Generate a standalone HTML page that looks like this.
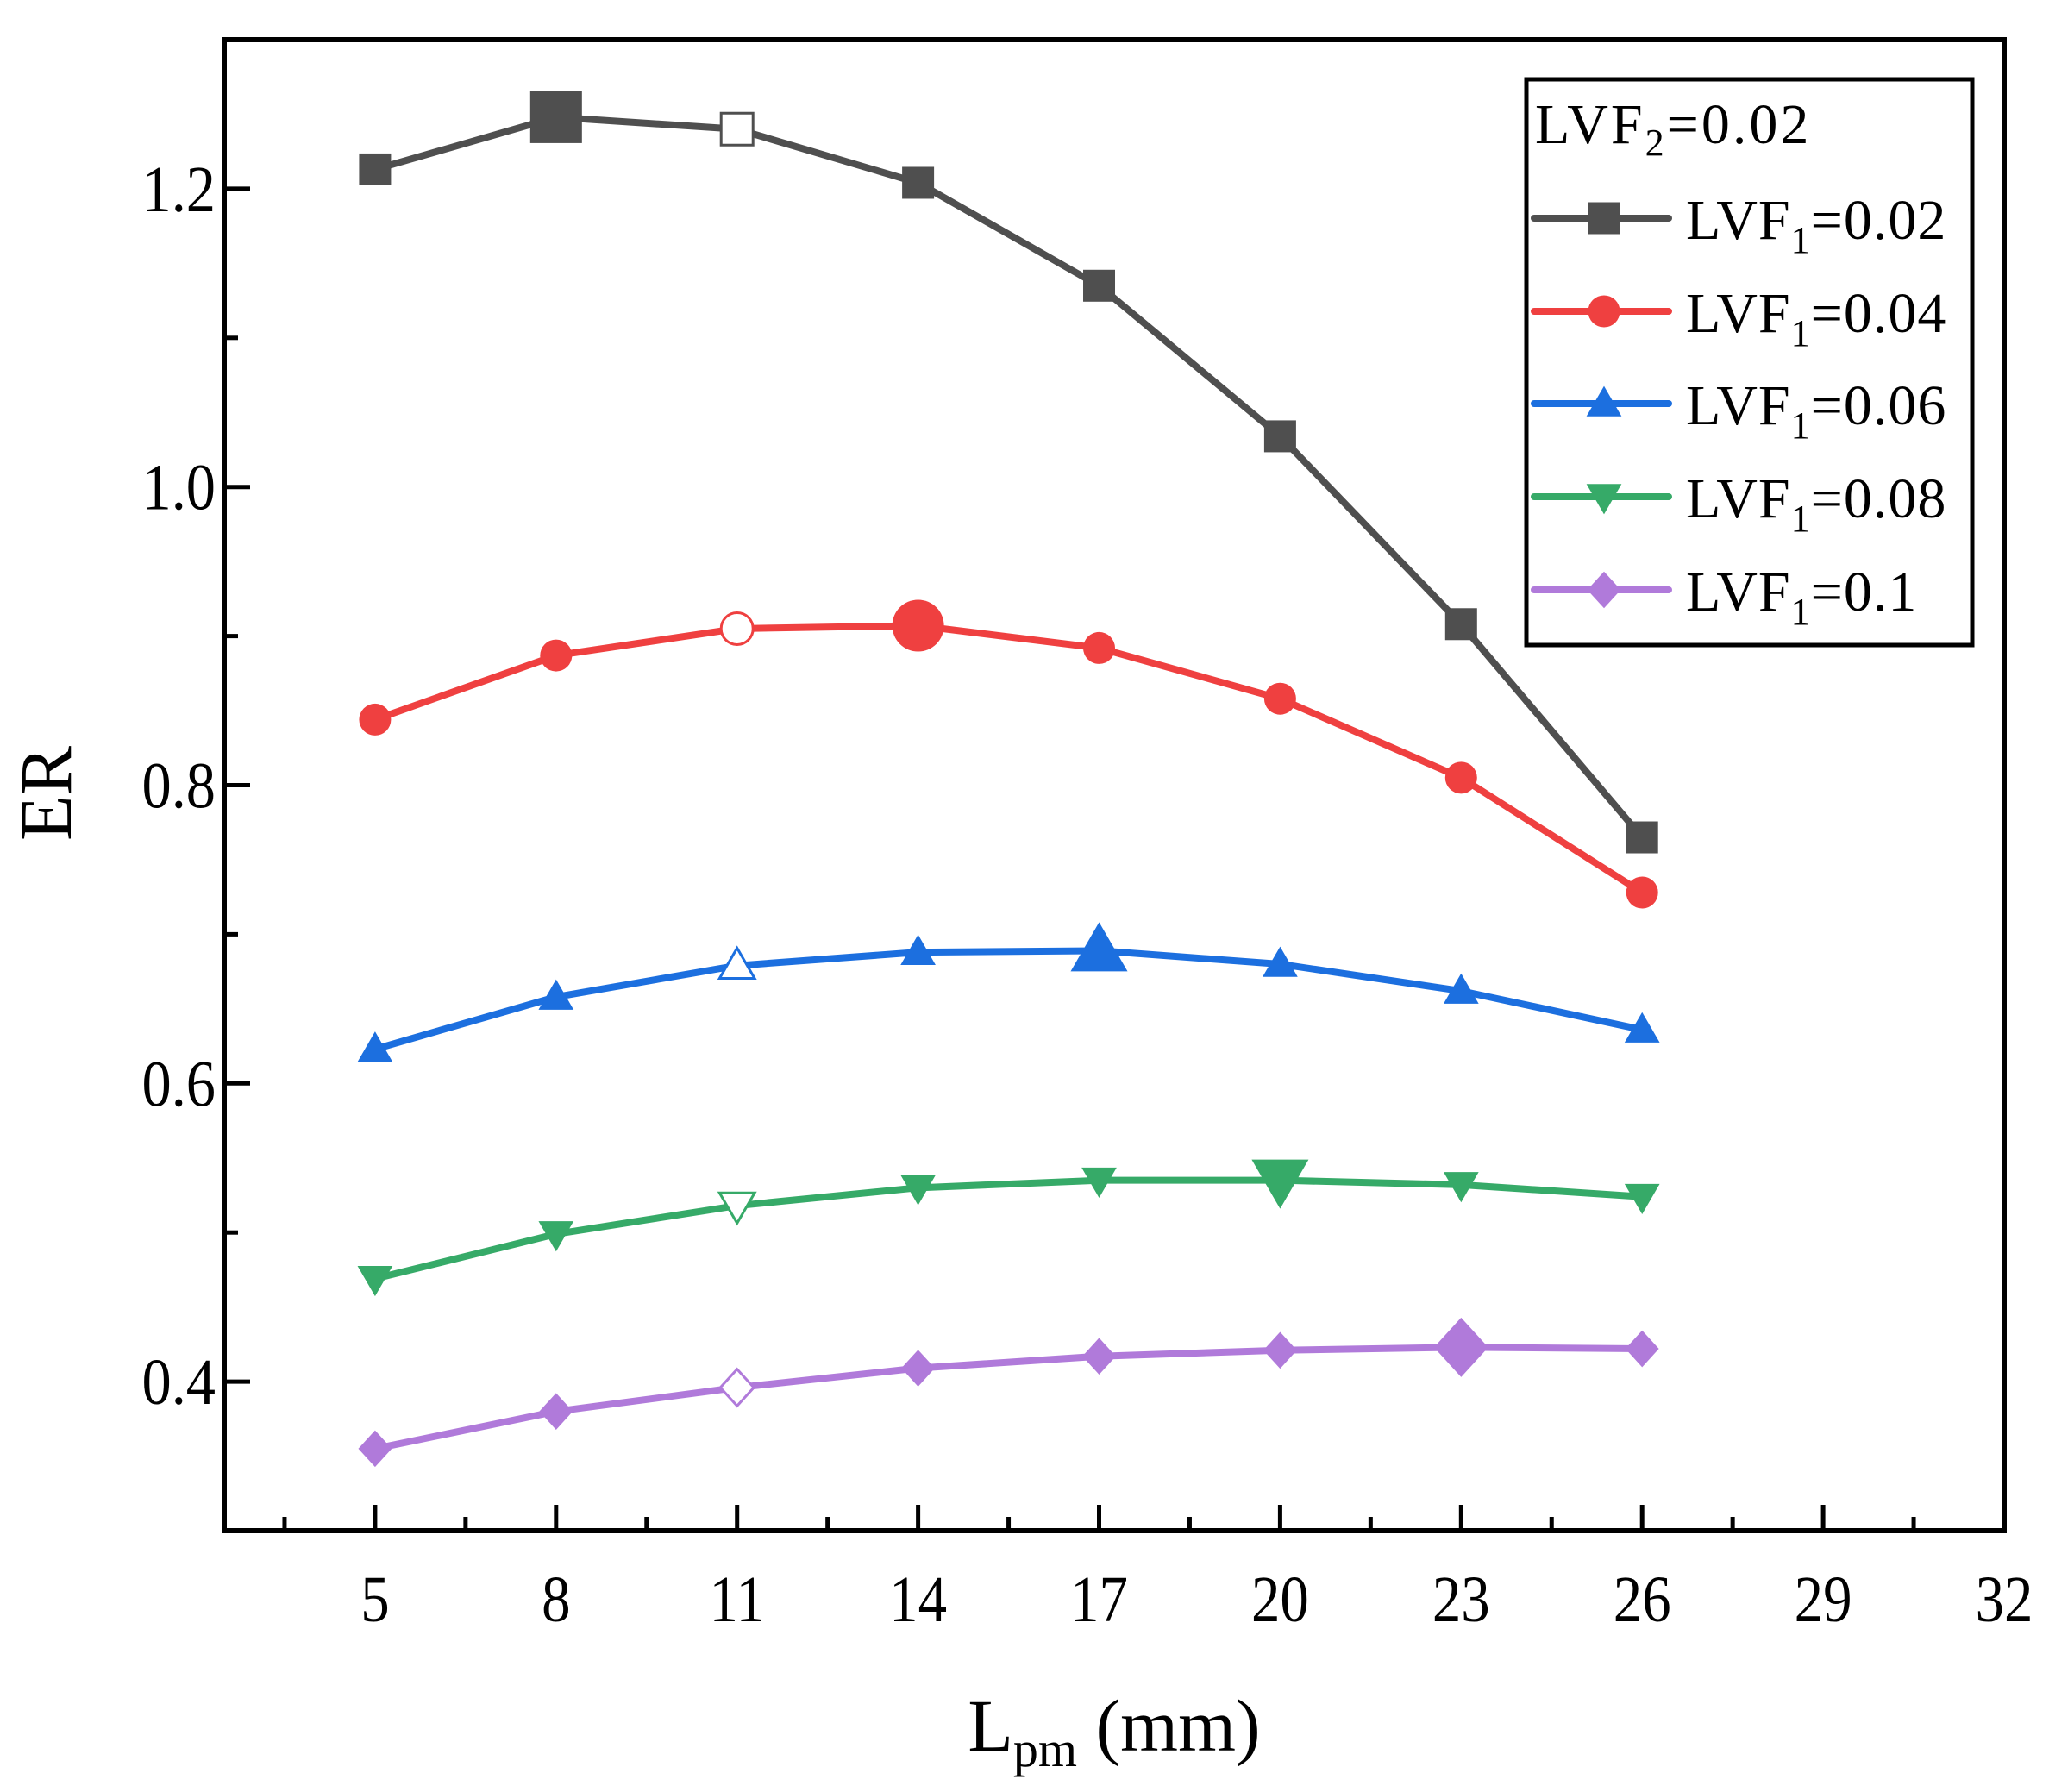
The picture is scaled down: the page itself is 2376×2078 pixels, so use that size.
<!DOCTYPE html>
<html><head><meta charset="utf-8"><style>
html,body{margin:0;padding:0;background:#fff;}
svg{display:block;font-family:"Liberation Serif",serif;}
</style></head><body>
<svg id="chart" width="2376" height="2078" viewBox="0 0 2376 2078" xmlns="http://www.w3.org/2000/svg">
<g id="plot"></g>
</svg>
<script>
const xCategories = [5, 8, 11, 14, 17, 20, 23, 26];
const seriesNames = ["LVF1=0.02","LVF1=0.04","LVF1=0.06","LVF1=0.08","LVF1=0.1"];
const s002 = [1.213, 1.248, 1.240, 1.204, 1.135, 1.034, 0.908, 0.765];
const s004 = [0.844, 0.887, 0.905, 0.907, 0.892, 0.858, 0.805, 0.728];
const s006 = [0.623, 0.658, 0.679, 0.688, 0.689, 0.680, 0.662, 0.636];
const s008 = [0.469, 0.499, 0.518, 0.530, 0.535, 0.535, 0.532, 0.524];
const s010 = [0.355, 0.380, 0.396, 0.409, 0.417, 0.421, 0.423, 0.422];
const xTicks = [5, 8, 11, 14, 17, 20, 23, 26, 29, 32];
const yTicks = [0.4, 0.6, 0.8, 1.0, 1.2];
const yTickLabels = ["0.4","0.6","0.8","1.0","1.2"];

const NS = "http://www.w3.org/2000/svg";
const L = 260, R = 2324, T = 46, B = 1775;
const xMin = 2.5, xMax = 32, yMin = 0.3, yMax = 1.3;
function xs(v){ return L + (v - xMin) / (xMax - xMin) * (R - L); }
function ys(v){ return B - (v - yMin) / (yMax - yMin) * (B - T); }
const svg = document.getElementById('plot');
function mk(tag, attrs, parent){ const e = document.createElementNS(NS, tag); for (const k in attrs) e.setAttribute(k, attrs[k]); (parent||svg).appendChild(e); return e; }

xTicks.forEach(function(t){
  const ln = mk('line', {x1: xs(t), x2: xs(t), y1: B, y2: B - 30, stroke: '#000', 'stroke-width': 5});
  
  
  const tx = mk('text', {x: 0, y: 0, 'font-size': 76, 'text-anchor': 'middle', transform: 'translate(' + xs(t) + ',1880) scale(0.88,1)'});
  tx.textContent = t;
  
  
});
for (let t = 3.5; t < 32; t += 3) {
  const ln = mk('line', {x1: xs(t), x2: xs(t), y1: B, y2: B - 16, stroke: '#000', 'stroke-width': 5});
  
  
}
yTicks.forEach(function(t, i){
  const ln = mk('line', {x1: L, x2: L + 30, y1: ys(t), y2: ys(t), stroke: '#000', 'stroke-width': 5});
  
  
  const tx = mk('text', {x: 0, y: 0, 'font-size': 76, 'text-anchor': 'end', transform: 'translate(250,' + (ys(t) + 26) + ') scale(0.9,1)'});
  tx.textContent = yTickLabels[i];
  
  
});
for (let t = 0.3; t < 1.31; t += 0.2) {
  const ln = mk('line', {x1: L, x2: L + 16, y1: ys(t), y2: ys(t), stroke: '#000', 'stroke-width': 5});
  
  
}

function marker(shape, cx, cy, sz, color, hollow, parent){
  const fill = hollow ? '#fff' : color;
  const sw = hollow ? 3 : 0;
  const h = sz / 2;
  let el;
  if (shape === 'square') el = mk('rect', {x: cx - h, y: cy - h, width: sz, height: sz}, parent);
  else if (shape === 'circle') el = mk('ellipse', {cx: cx, cy: cy, rx: h, ry: h}, parent);
  else if (shape === 'up') el = mk('polygon', {points: (cx)+','+(cy-h*1.1)+' '+(cx+h*1.1)+','+(cy+h*0.8)+' '+(cx-h*1.1)+','+(cy+h*0.8)}, parent);
  else if (shape === 'down') el = mk('polygon', {points: (cx)+','+(cy+h*1.1)+' '+(cx+h*1.1)+','+(cy-h*0.8)+' '+(cx-h*1.1)+','+(cy-h*0.8)}, parent);
  else el = mk('polygon', {points: cx+','+(cy-h*1.15)+' '+(cx+h*1.05)+','+cy+' '+cx+','+(cy+h*1.15)+' '+(cx-h*1.05)+','+cy}, parent);
  el.setAttribute('fill', fill);
  el.setAttribute('stroke', color);
  el.setAttribute('stroke-width', sw);
  return el;
}

const allSeries = [s002, s004, s006, s008, s010];
const colors = ['#4f4f4f', '#ef4040', '#1c6fdf', '#36aa68', '#b07ada'];
const shapes = ['square', 'circle', 'up', 'down', 'diamond'];
const bigIdx = [1, 3, 4, 5, 6];
const hollowIdx = 2;
allSeries.forEach(function(data, si){
  const g = mk('g', {});
  
  
  const pts = data.map(function(v, i){ return xs(xCategories[i]) + ',' + ys(v); }).join(' ');
  const pl = mk('polyline', {points: pts, fill: 'none', stroke: colors[si], 'stroke-width': 8, 'stroke-linejoin': 'round'}, g);
  
  
  data.forEach(function(v, i){
    const big = i === bigIdx[si];
    const m = marker(shapes[si], xs(xCategories[i]), ys(v), big ? 60 : 37, colors[si], i === hollowIdx, g);
    
    
  });
});

const box = mk('rect', {x: L, y: T, width: R - L, height: B - T, fill: 'none', stroke: '#000', 'stroke-width': 6});



const lg = mk('g', {});


mk('rect', {x: 1770, y: 92, width: 517, height: 656, fill: '#fff', stroke: '#000', 'stroke-width': 5}, lg);
const lt = mk('text', {x: 1780, y: 166, 'font-size': 66, 'letter-spacing': 3}, lg);
lt.innerHTML = 'LVF<tspan font-size="44" dy="14">2</tspan><tspan dy="-14">=0.02</tspan>';


const legY = [253, 361, 468, 576, 684];
const legLabels = ['0.02', '0.04', '0.06', '0.08', '0.1'];
seriesNames.forEach(function(n, i){
  const y = legY[i];
  const e = mk('g', {}, lg);
  
  
  mk('line', {x1: 1779, x2: 1935, y1: y, y2: y, stroke: colors[i], 'stroke-width': 8, 'stroke-linecap': 'round'}, e);
  marker(shapes[i], 1860, y, 37, colors[i], false, e);
  const t = mk('text', {x: 1955, y: y + 24, 'font-size': 66, 'letter-spacing': 1}, e);
  t.innerHTML = 'LVF<tspan font-size="44" dy="16">1</tspan><tspan dy="-16">=' + legLabels[i] + '</tspan>';
});

const yt = mk('text', {x: 0, y: 0, 'font-size': 86, 'text-anchor': 'middle', transform: 'translate(82,920) rotate(-90)'});
yt.textContent = 'ER';


const xt = mk('text', {x: 1292, y: 2030, 'font-size': 86, 'text-anchor': 'middle'});
xt.innerHTML = 'L<tspan font-size="58" dy="18">pm</tspan><tspan dy="-18"> (mm)</tspan>';


</script>
</body></html>
